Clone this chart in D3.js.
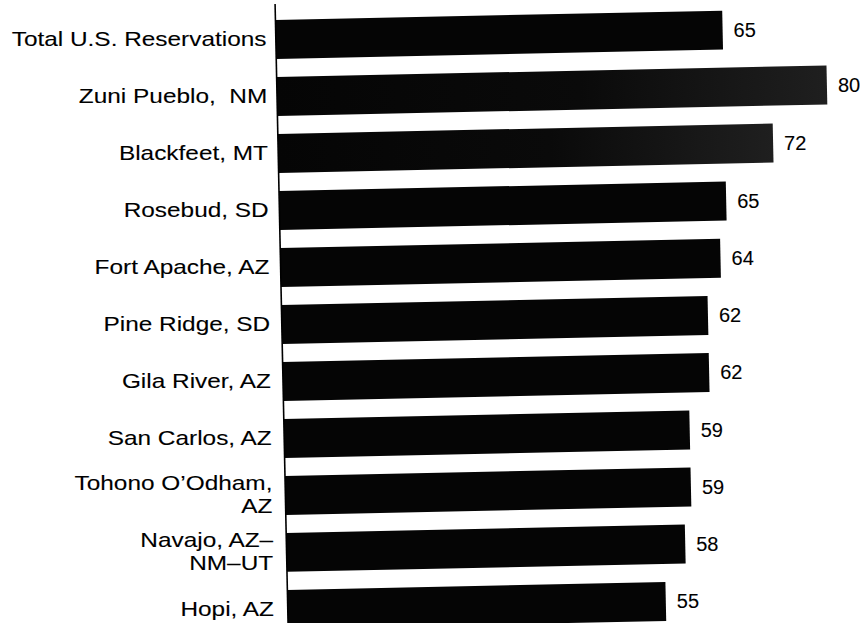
<!DOCTYPE html>
<html>
<head>
<meta charset="utf-8">
<script src="https://cdn.jsdelivr.net/npm/d3@7"></script>
<style>
    body { margin: 0; background: #fff; }
    svg { display: block; }
    text { font-family: "Liberation Sans", Arial, Helvetica, sans-serif; fill: #000; stroke: #000; stroke-width: 0.1px; }
</style>
</head>
<body>
<div id="chart"></div>
<script>
// data
var places = ["Total U.S. Reservations", "Zuni Pueblo,  NM", "Blackfeet, MT", "Rosebud, SD",
    "Fort Apache, AZ", "Pine Ridge, SD", "Gila River, AZ", "San Carlos, AZ",
    "Tohono O\u2019Odham,\nAZ", "Navajo, AZ\u2013\nNM\u2013UT", "Hopi, AZ"];
var values = [65, 80, 72, 65, 64, 62, 62, 59, 59, 58, 55];
var xDomain = [0, 80];

var width = 865, height = 623;
var axisX = 275,
    tilt = -1.2; // the scanned plot sits slightly turned

var svg = d3.select("#chart")
    .append("svg")
    .attr("width", width)
    .attr("height", height);

// faded print on two of the bars
var grad = svg.append("defs").append("linearGradient")
    .attr("id", "worn")
    .attr("x1", "0%").attr("x2", "100%");
grad.append("stop").attr("offset", "0%").attr("stop-color", "#050505");
grad.append("stop").attr("offset", "55%").attr("stop-color", "#0a0a0a");
grad.append("stop").attr("offset", "100%").attr("stop-color", "#1f1f1f");

var x = d3.scaleLinear().domain(xDomain).range([axisX, 825]);
var y = d3.scaleBand().domain(places).range([20, 629]).paddingInner(0.316);

var data = places.map(function (p, i) { return { place: p, value: values[i], i: i }; });

// bars + axis group
var plot = svg.append("g")
    .attr("transform", "rotate(" + tilt + "," + axisX + ",0)");

plot.selectAll("rect.bar")
    .data(data)
    .enter().append("rect")
    .attr("class", "bar")
    .attr("x", x(0))
    .attr("y", function (d) { return y(d.place); })
    .attr("width", function (d) { return x(d.value) - x(0); })
    .attr("height", y.bandwidth())
    .attr("fill", function (d) { return (d.i === 1 || d.i === 2) ? "url(#worn)" : "#050505"; });

plot.append("line")
    .attr("x1", axisX).attr("x2", axisX)
    .attr("y1", 4).attr("y2", height + 20)
    .attr("stroke", "#000")
    .attr("stroke-width", 1.6);

// value labels, turned back so they read level
plot.selectAll("text.value")
    .data(data)
    .enter().append("text")
    .attr("class", "value")
    .attr("transform", function (d) {
        return "translate(" + (x(d.value) + 11) + "," + (y(d.place) + y.bandwidth() / 2) + ") rotate(" + (-tilt) + ")";
    })
    .attr("dy", "0.35em")
    .style("font-size", "20px")
    .text(function (d) { return d.value; });

// category labels
svg.append("g").selectAll("text.cat")
    .data(data)
    .enter().append("text")
    .attr("class", "cat")
    .attr("transform", function (d) {
        var cy = y(d.place) + y.bandwidth() / 2;
        return "translate(" + (266 + cy * 0.013) + "," + cy + ") scale(1.22,1)";
    })
    .attr("text-anchor", "end")
    .style("font-size", "20px")
    .style("white-space", "pre")
    .each(function (d) {
        var lines = d.place.split("\n"), t = d3.select(this);
        lines.forEach(function (l, i) {
            t.append("tspan")
                .attr("x", 0)
                .attr("y", 6 + (i - (lines.length - 1) / 2) * 23)
                .text(l);
        });
    });
</script>
</body>
</html>
